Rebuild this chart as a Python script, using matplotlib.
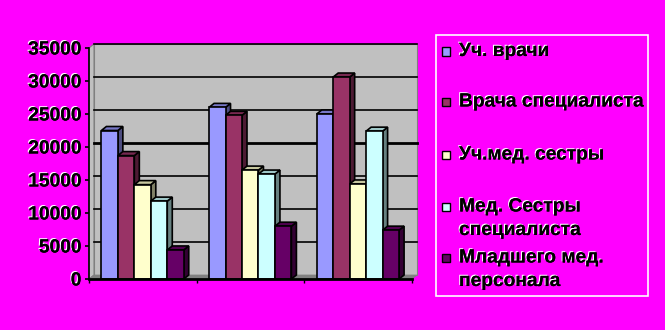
import matplotlib
matplotlib.use("Agg")
import matplotlib.pyplot as plt
import matplotlib.patheffects as pe
from matplotlib.patches import Polygon, Rectangle
from matplotlib.colors import to_rgb

# Ряды данных по трём группам
series_names = ["Уч. врачи", "Врача специалиста", "Уч.мед. сестры",
                "Мед. Сестры\nспециалиста", "Младшего мед.\nперсонала"]
uch_vrachi = [22500, 26000, 25000]
vrachi_spec = [18700, 24800, 30600]
uch_medsestry = [14300, 16500, 14400]
medsestry_spec = [11800, 15900, 22400]
mladshiy_personal = [4400, 8000, 7400]
y_ticks = [0, 5000, 10000, 15000, 20000, 25000, 30000, 35000]

series = [uch_vrachi, vrachi_spec, uch_medsestry, medsestry_spec, mladshiy_personal]
colors = ["#9999FF", "#993366", "#FFFFCC", "#CCFFFF", "#660066"]

W, H = 665, 330
fig = plt.figure(figsize=(W / 100, H / 100), dpi=100)
fig.patch.set_facecolor("#FF00FF")

# область построения в пикселях
x0, x1 = 89, 412
y0, y1 = 279, 48
ax = fig.add_axes([x0 / W, 1 - y0 / H, (x1 - x0) / W, (y0 - y1) / H])
ax.set_facecolor("none")
n = len(uch_vrachi)
ymax = 35000
ax.set_xlim(0, n)
ax.set_ylim(0, ymax)

# сдвиг "глубины" псевдо-3D в единицах данных
dx = 5 * n / (x1 - x0)
dy = 4 * ymax / (y0 - y1)

# задняя стенка, боковая стенка и пол
ax.add_patch(Polygon([(dx, dy), (n + dx, dy), (n + dx, ymax + dy), (dx, ymax + dy)],
                     closed=True, facecolor="#C0C0C0", edgecolor="#808080", lw=0.8,
                     clip_on=False, zorder=0))
ax.add_patch(Polygon([(0, 0), (dx, dy), (dx, ymax + dy), (0, ymax)],
                     closed=True, facecolor="#C0C0C0", edgecolor="#808080", lw=0.8,
                     clip_on=False, zorder=0))
ax.add_patch(Polygon([(0, 0), (n, 0), (n + dx, dy), (dx, dy)],
                     closed=True, facecolor="#808080", edgecolor="#808080", lw=0.5,
                     clip_on=False, zorder=0.5))

# линии сетки на задней стенке
for v in y_ticks[1:]:
    lw = 2.0 if v == 20000 else 1.2
    ax.plot([dx, n + dx], [v + dy, v + dy], color="black", lw=lw,
            clip_on=False, zorder=1)


def shade(c, k):
    r, g, b = to_rgb(c)
    return (r * k, g * k, b * k)


bar_w = 0.153
start = 0.115
for g in range(n):
    for k, vals in enumerate(series):
        left = g + start + k * bar_w
        right = left + bar_w
        h = vals[g]
        c = colors[k]
        z = 2 + g * 10 + k
        front = Rectangle((left, 0), bar_w, h, facecolor=c, edgecolor="black",
                          lw=1.2, zorder=z + 0.3, clip_on=False)
        top = Polygon([(left, h), (right, h), (right + dx, h + dy), (left + dx, h + dy)],
                      closed=True, facecolor=shade(c, 0.78), edgecolor="black",
                      lw=1.2, zorder=z + 0.2, clip_on=False)
        side = Polygon([(right, 0), (right + dx, dy), (right + dx, h + dy), (right, h)],
                       closed=True, facecolor=shade(c, 0.5), edgecolor="black",
                       lw=1.2, zorder=z + 0.1, clip_on=False)
        ax.add_patch(side)
        ax.add_patch(top)
        ax.add_patch(front)

# оси
for s in ["top", "right"]:
    ax.spines[s].set_visible(False)
ax.spines["left"].set_linewidth(1.2)
ax.spines["bottom"].set_linewidth(2)
ax.spines["left"].set_zorder(50)
ax.spines["bottom"].set_zorder(50)
ax.set_xticks(range(n + 1))
ax.set_xticklabels([])
ax.tick_params(axis="x", length=3, width=1, color="black")
ax.set_yticks(y_ticks)
ax.set_yticklabels([str(v) for v in y_ticks])
ax.tick_params(axis="y", length=3, width=1.2, pad=2.5)

emboss = [pe.withSimplePatchShadow(offset=(-0.8, 0.8), shadow_rgbFace="white", alpha=1.0),
          pe.Normal()]
for lbl in ax.get_yticklabels():
    lbl.set_fontfamily("Liberation Sans")
    lbl.set_fontweight("bold")
    lbl.set_fontsize(13.8)
    lbl.set_path_effects(emboss)

# легенда
fig.patches.append(Rectangle((436 / W, 1 - 296 / H), (648 - 436) / W, (296 - 35) / H,
                             transform=fig.transFigure, facecolor="none",
                             edgecolor="white", lw=1.2))
legend_y = [51.5, 102, 155, 207, 258]
line_step = 23.5
for name, c, ly in zip(series_names, colors, legend_y):
    fig.patches.append(Rectangle((442 / W, 1 - (ly + 4) / H), 8 / W, 8 / H,
                                 transform=fig.transFigure, facecolor=c,
                                 edgecolor="black", lw=1.0))
    for i, line in enumerate(name.split("\n")):
        fig.text(459 / W, 1 - (ly + i * line_step) / H, line, ha="left", va="center",
                 fontfamily="Liberation Sans", fontweight="bold", fontsize=13.8,
                 path_effects=emboss)

fig.savefig("out.png", dpi=100, facecolor=fig.get_facecolor())
